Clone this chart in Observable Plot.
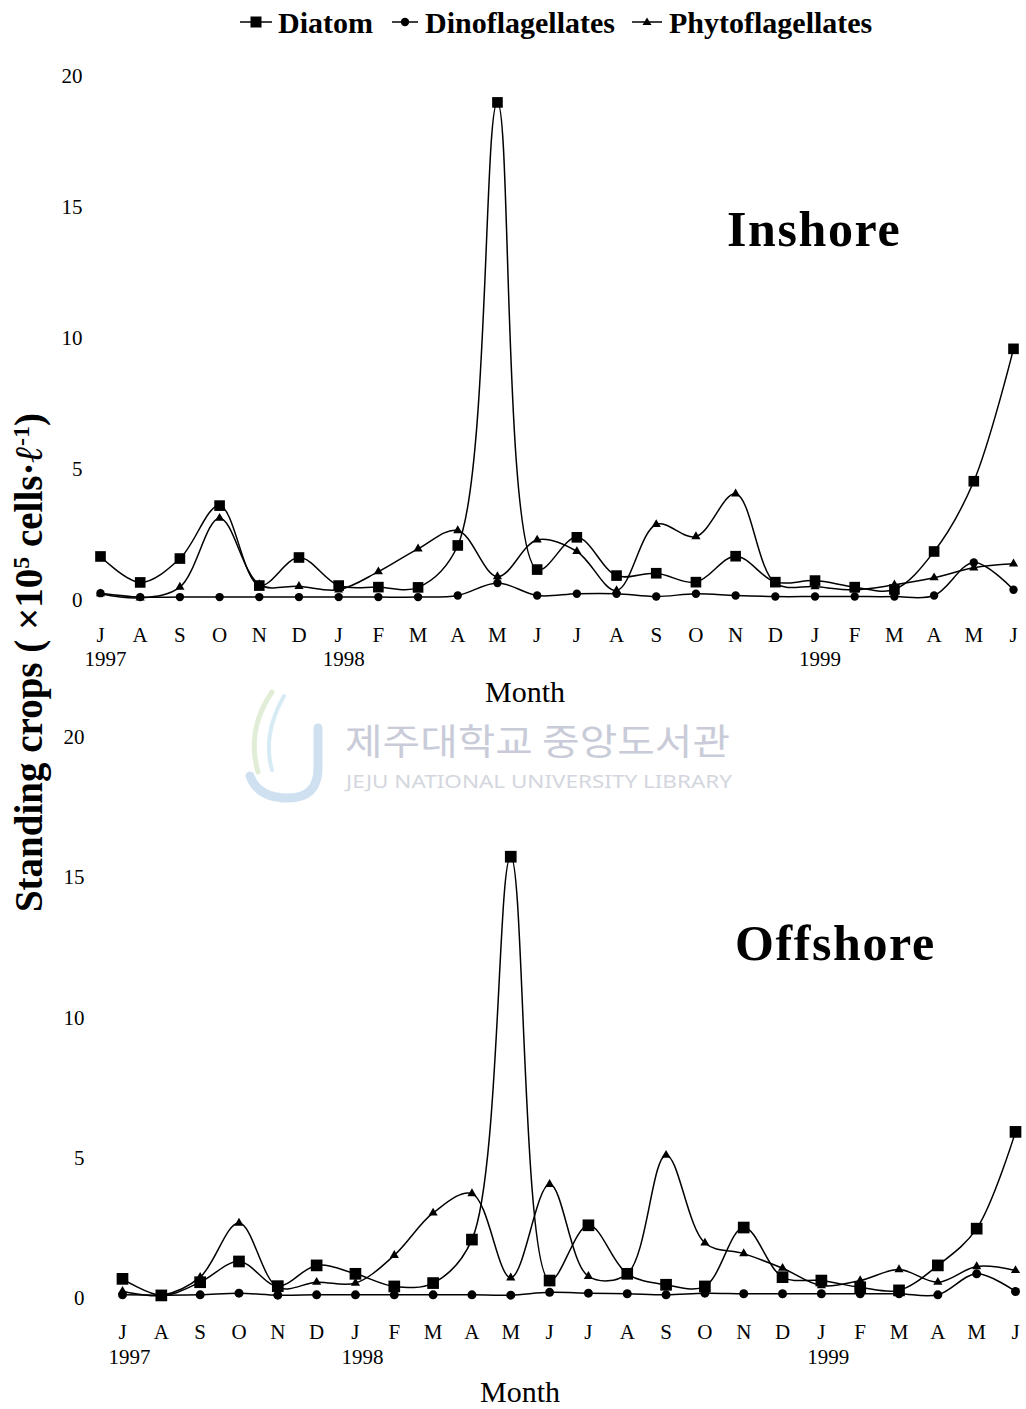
<!DOCTYPE html>
<html><head><meta charset="utf-8">
<script src="https://cdn.jsdelivr.net/npm/d3@7"></script>
<script src="https://cdn.jsdelivr.net/npm/@observablehq/plot@0.6"></script>
<style>
body{margin:0;background:#fff;}
#page{position:relative;width:1026px;height:1409px;overflow:hidden;background:#fff;font-family:"Liberation Serif","Times New Roman",serif;color:#000}
#page > svg, #page > div{position:absolute}
</style></head>
<body><div id="page"></div>
<script>
const months = ["J","A","S","O","N","D","J","F","M","A","M","J","J","A","S","O","N","D","J","F","M","A","M","J"];
const yearLabels = ["1997","1998","1999"];
const yearIndex = [0,6,18];
const yTicks = [0,5,10,15,20];
const seriesNames = ["Diatom","Dinoflagellates","Phytoflagellates"];

const inshoreDiatom = [1.68,0.69,1.60,3.62,0.57,1.64,0.57,0.51,0.50,2.10,19.0,1.18,2.41,0.95,1.04,0.70,1.69,0.70,0.76,0.51,0.42,1.87,4.55,9.60];
const inshoreDino   = [0.28,0.13,0.13,0.13,0.13,0.13,0.13,0.13,0.13,0.19,0.67,0.19,0.26,0.26,0.15,0.26,0.19,0.15,0.15,0.15,0.15,0.19,1.45,0.41];
const inshorePhyto  = [0.26,0.10,0.51,3.14,0.61,0.54,0.41,1.10,1.97,2.67,0.91,2.31,1.87,0.38,2.90,2.44,4.07,0.66,0.53,0.41,0.60,0.87,1.25,1.40];

const offshoreDiatom = [0.70,0.11,0.58,1.32,0.44,1.18,0.88,0.43,0.55,2.10,15.75,0.64,2.61,0.88,0.49,0.43,2.53,0.76,0.64,0.40,0.29,1.18,2.49,5.94];
const offshoreDino   = [0.13,0.12,0.13,0.19,0.12,0.13,0.13,0.13,0.13,0.13,0.12,0.22,0.19,0.17,0.13,0.19,0.17,0.17,0.17,0.17,0.17,0.13,0.88,0.25];
const offshorePhyto  = [0.26,0.11,0.76,2.69,0.40,0.58,0.55,1.54,3.05,3.74,0.74,4.07,0.79,0.88,5.11,1.98,1.60,1.08,0.46,0.64,1.03,0.58,1.14,1.00];

function table(diatom, dino, phyto) {
  const rows = [];
  [diatom, dino, phyto].forEach((arr, k) => arr.forEach((v, i) => rows.push({i, v, s: seriesNames[k]})));
  return rows;
}

const serif = "'Liberation Serif','Times New Roman',serif";

function panel(data, o) {
  return Plot.plot({
    width: 1026, height: o.height,
    marginLeft: o.left, marginRight: o.right, marginTop: o.top, marginBottom: o.bottom,
    x: {domain: [0, 23], label: null},
    y: {domain: [0, 20], label: null},
    style: {background: "transparent", fontFamily: serif, fontSize: "21px", color: "#000", overflow: "visible"},
    marks: [
      Plot.line(data, {x: "i", y: "v", z: "s", curve: "catmull-rom", stroke: "#000", strokeWidth: 1.5}),
      Plot.dot(data, {filter: d => d.s === "Phytoflagellates", x: "i", y: "v", symbol: "triangle", r: 3.4, fill: "#000", stroke: null}),
      Plot.dot(data, {filter: d => d.s === "Dinoflagellates", x: "i", y: "v", symbol: "circle", r: o.cr, fill: "#000", stroke: null}),
      Plot.dot(data, {filter: d => d.s === "Diatom", x: "i", y: "v", symbol: "square", r: o.sr, fill: "#000", stroke: null}),
      Plot.axisY(yTicks, {tickSize: 0, tickPadding: o.ypad, label: null, fontFamily: serif, fontSize: 21}),
      Plot.axisX(d3.range(24), {tickSize: 0, tickPadding: o.mpad, tickFormat: i => months[i], label: null, fontFamily: serif, fontSize: 21}),
      Plot.axisX(yearIndex, {tickSize: 0, tickPadding: o.ypad2, dx: o.ydx, tickFormat: i => yearLabels[yearIndex.indexOf(i)], label: null, fontFamily: serif, fontSize: 21})
    ]
  });
}

const page = document.getElementById("page");

const inshore = panel(table(inshoreDiatom, inshoreDino, inshorePhyto),
  {height: 670, left: 100, right: 13, top: 25.7, bottom: 120, ypad: 18, mpad: 27, ypad2: 51, ydx: 5, sr: 6.0, cr: 4.2});
inshore.style.left = "0px"; inshore.style.top = "50px";
page.appendChild(inshore);

const offshore = panel(table(offshoreDiatom, offshoreDino, offshorePhyto),
  {height: 694, left: 122, right: 11, top: 22, bottom: 111, ypad: 38, mpad: 26, ypad2: 51, ydx: 7, sr: 6.6, cr: 4.5});
offshore.style.left = "0px"; offshore.style.top = "715px";
page.appendChild(offshore);

// overlay texts: legend, titles, axis titles, watermark
const ns = "http://www.w3.org/2000/svg";
const ov = document.createElementNS(ns, "svg");
ov.setAttribute("width", 1026); ov.setAttribute("height", 1409);
ov.style.left = "0px"; ov.style.top = "0px";
ov.innerHTML = `
<g opacity="0.55" fill="none" stroke-linecap="round">
  <path d="M318,728 L318,768 Q318,798 288,798 Q258,798 250,776" stroke="#a9c9e6" stroke-width="9"/>
  <path d="M272,692 Q246,730 258,772" stroke="#c9e0b8" stroke-width="5"/>
  <path d="M284,696 Q262,735 272,770" stroke="#b7dcec" stroke-width="4"/>
</g>
<g fill="#c9ccd8">
  <text x="345" y="755" font-family="'Noto Sans CJK KR'" font-size="36" textLength="385" lengthAdjust="spacingAndGlyphs">제주대학교 중앙도서관</text>
  <text x="346" y="788" font-family="'Noto Sans'" font-size="18" textLength="386" lengthAdjust="spacingAndGlyphs" fill="#d3d6de">JEJU NATIONAL UNIVERSITY  LIBRARY</text>
</g>
<g font-family="'Liberation Serif','Times New Roman',serif" fill="#000">
  <g font-weight="bold" font-size="30">
    <line x1="240" x2="272" y1="22" y2="22" stroke="#000" stroke-width="1.5"/>
    <rect x="250.5" y="16.5" width="11" height="11"/>
    <text x="278" y="33">Diatom</text>
    <line x1="392" x2="418" y1="22" y2="22" stroke="#000" stroke-width="1.5"/>
    <circle cx="405" cy="22" r="4.2"/>
    <text x="425" y="33">Dinoflagellates</text>
    <line x1="632" x2="662" y1="22" y2="22" stroke="#000" stroke-width="1.5"/>
    <path d="M647,17.5 L651.5,25 L642.5,25 Z"/>
    <text x="669" y="33">Phytoflagellates</text>
  </g>
  <text x="727" y="246" font-weight="bold" font-size="50" letter-spacing="1.6">Inshore</text>
  <text x="735" y="960" font-weight="bold" font-size="50" letter-spacing="1.6">Offshore</text>
  <text x="525" y="702" font-size="30" text-anchor="middle">Month</text>
  <text x="520" y="1402" font-size="30" text-anchor="middle">Month</text>
  <text transform="translate(42,662.5) rotate(-90)" font-weight="bold" font-size="39" text-anchor="middle">Standing crops (  ×10<tspan font-size="24" baseline-shift="super">5</tspan> cells·<tspan font-style="italic">ℓ</tspan><tspan font-size="24" baseline-shift="super">-1</tspan>)</text>
</g>`;
page.appendChild(ov);
</script>
</body></html>
